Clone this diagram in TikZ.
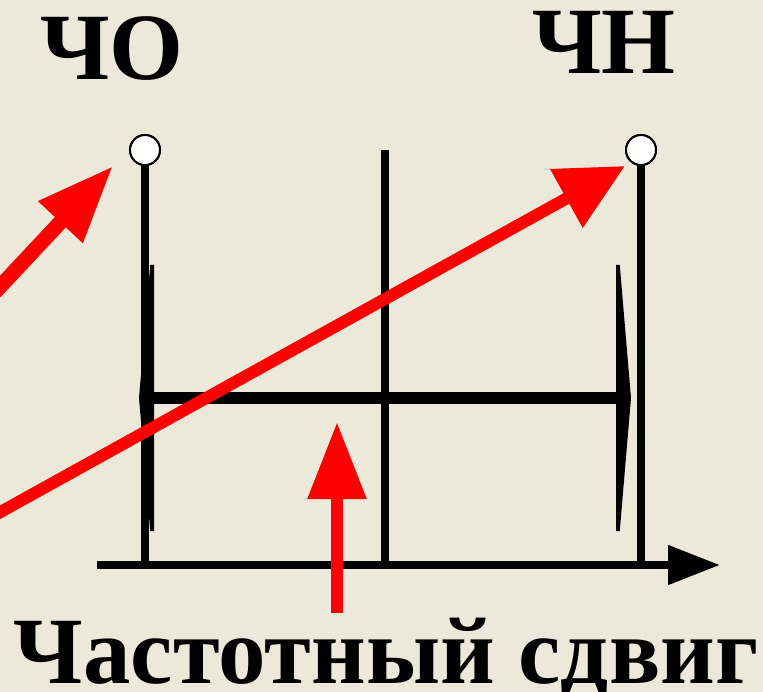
\documentclass[tikz,border=0pt]{standalone}
\usepackage{fontspec}
\setmainfont{Liberation Serif}
\usetikzlibrary{arrows.meta}
\definecolor{bg}{RGB}{236,233,218}
\begin{document}
\begin{tikzpicture}[x=1pt,y=-1pt,
  lbl/.style={font=\fontsize{95}{100}\selectfont\bfseries, inner sep=0pt, anchor=base},
  vline/.style={line width=8pt, black},
  marker/.style={circle, draw=black, line width=2pt, fill=white, minimum size=30pt, inner sep=0pt},
  ]
\fill[bg] (0,0) rectangle (763,692);
\useasboundingbox (0,0) rectangle (763,692);
% coordinates
\coordinate (axL) at (97,565);
\coordinate (axR) at (720,565);
\coordinate (l0) at (145,565);
\coordinate (m0) at (385,565);
\coordinate (m1) at (385,150);
\coordinate (r0) at (641,565);
\coordinate (hL) at (139,398);
\coordinate (hR) at (631,398);
% axis
\draw[line width=8pt, -{Triangle[length=52pt,width=38pt]}] (axL) -- (axR);
% vertical lines
\node[marker] (co) at (145,150) {};
\node[marker] (cn) at (641,150) {};
\draw[vline] (l0) -- (co.center);
\draw[vline] (m0) -- (m1);
\draw[vline] (r0) -- (cn.center);
% double arrow
\draw[line width=12pt, {Triangle[length=15pt,width=355pt]}-{Triangle[length=15pt,width=355pt]}] (hL) -- (hR);
% circles on top
\node[marker] at (co) {};
\node[marker] at (cn) {};
% labels
\node[lbl] (tco) at (112,80) {ЧО};
\node[lbl] (tcn) at (604,74) {ЧН};
\node[lbl] (tbot) at (386,683) {Частотный сдвиг};
% red arrows
\coordinate (a1s) at (-5,292);
\coordinate (a1e) at (113,166);
\coordinate (a2s) at (-5,515);
\coordinate (a2e) at (625,166);
\coordinate (a3s) at (337,613);
\coordinate (a3e) at (337,422);
\draw[red, line width=15pt, -{Triangle[length=77pt,width=57pt]}] (a1s) -- (a1e);
\draw[red, line width=12pt, -{Triangle[length=67pt,width=64pt]}] (a2s) -- (a2e);
\draw[red, line width=12pt, -{Triangle[length=77pt,width=56pt]}] (a3s) -- (a3e);
\end{tikzpicture}
\end{document}
